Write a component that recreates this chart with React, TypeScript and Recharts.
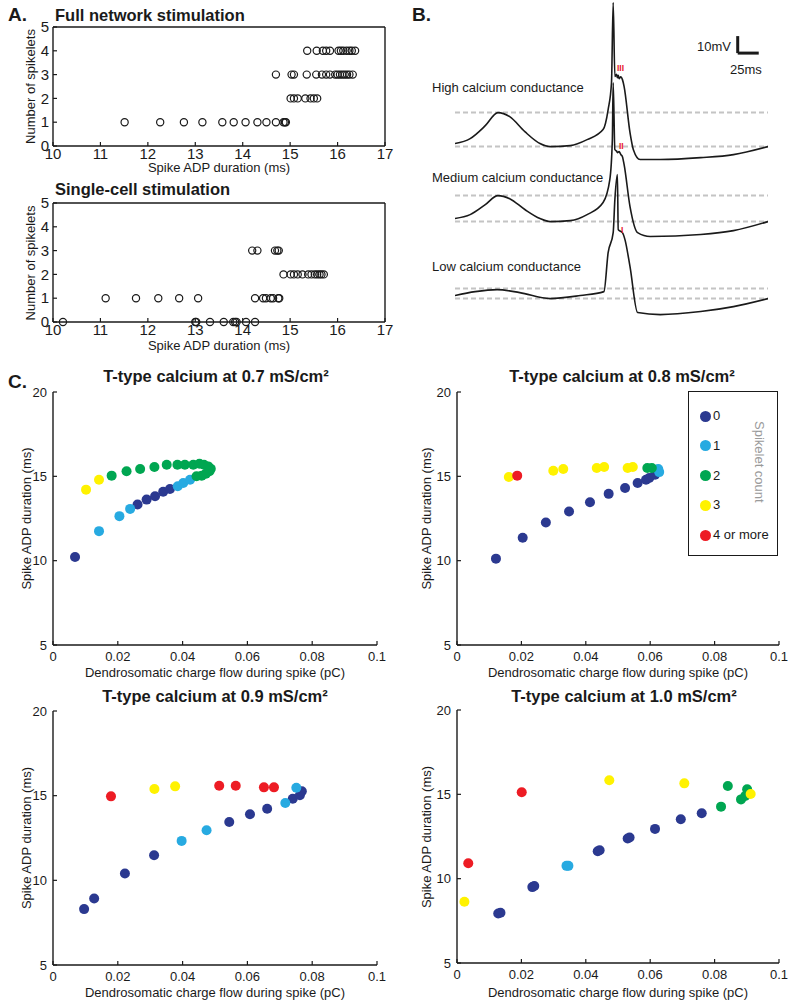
import React from "react";
import { ScatterChart, Scatter, XAxis, YAxis, LineChart, Line, ReferenceLine, Legend } from "recharts";

const FONT = '"Liberation Sans", Arial, Helvetica, sans-serif';
const INK = "#1a1a1a";

// ---- A: spikelet count vs ADP duration (one array per spikelet level)
const aXTicks = [10, 11, 12, 13, 14, 15, 16, 17];
const aYTicks = [0, 1, 2, 3, 4, 5];

const netOne = [11.51, 12.26, 12.76, 13.15, 13.57, 13.81, 14.06, 14.31, 14.5, 14.7, 14.86, 14.89, 14.91];
const netTwo = [15.01, 15.08, 15.16, 15.32, 15.43, 15.5, 15.57];
const netThree = [14.7, 15.03, 15.08, 15.35, 15.55, 15.67, 15.76, 15.84, 15.95, 16.0, 16.05, 16.1, 16.15, 16.2, 16.25, 16.32];
const netFour = [15.36, 15.56, 15.69, 15.76, 15.84, 16.02, 16.07, 16.12, 16.19, 16.25, 16.3, 16.37];

const cellZero = [10.21, 13.0, 13.02, 13.31, 13.6, 13.8, 13.84, 13.87, 14.07, 14.26];
const cellOne = [11.11, 11.75, 12.22, 12.66, 13.06, 14.26, 14.43, 14.49, 14.59, 14.64, 14.75, 14.77];
const cellTwo = [14.86, 15.01, 15.08, 15.16, 15.26, 15.38, 15.45, 15.52, 15.57, 15.62, 15.66, 15.71];
const cellThree = [14.2, 14.31, 14.68, 14.73, 14.76];

// ---- B: membrane potential traces, [time ms, mV above baseline]
const traceHigh = [
  [0, 1.8], [18, 4.7], [36, 12.3], [51, 20], [65, 17.6], [83, 8.8], [101, 1.8], [113, 0], [137, 0.6],
  [157, 4.1], [176, 10], [182, 21.8], [186, 37.6], [188, 84.7], [190, 41.2], [192, 42.5], [193, 40.5],
  [194, 42], [195, 40], [197, 41], [199, 39.4], [201, 35.3], [208, 8.2], [212, -1.8], [220, -7.6],
  [244, -7.6], [292, -6.5], [331, -4.7], [372, 0],
];
const traceMedium = [
  [0, 1.8], [18, 4.1], [36, 10], [51, 15.3], [65, 13.5], [83, 7.1], [101, 1.8], [113, 0], [137, 0.6],
  [157, 4.1], [176, 11.2], [184, 24.7], [187, 48], [188, 81.7], [190, 42.3], [192, 41.5], [193, 40.6],
  [195, 41.2], [197, 39.5], [199, 38.2], [201, 33.5], [208, 8.8], [217, -6.5], [232, -8.8],
  [292, -7.6], [331, -5.3], [372, 0],
];
const traceLow = [
  [0, 1.8], [24, 4.1], [50, 5.3], [77, 3.5], [113, 0], [149, 1.8], [177, 4.1], [182, 27], [188, 38.8],
  [190, 58.2], [193, 72.9], [194, 40.6], [197, 39.5], [199, 38.8], [202, 34.7], [208, 18.8],
  [217, -8.2], [244, -9.4], [292, -7.6], [331, -4.7], [372, 0],
];
const humpLevels = [20, 15.3, 5.9];

// ---- C: ADP duration vs charge flow, grouped by spikelet count
const chargeTicks = [0, 0.02, 0.04, 0.06, 0.08, 0.1];
const adpTicks = [5, 10, 15, 20];
const countNames = ["0", "1", "2", "3", "4 or more"];
const countColors = ["#2b3990", "#27aae1", "#00a651", "#fff200", "#ed1c24"];

const t07 = [
  [[0.0068, 10.22], [0.0261, 13.33], [0.0289, 13.62], [0.0315, 13.82], [0.034, 14.09], [0.0361, 14.25]],
  [[0.0142, 11.75], [0.0205, 12.64], [0.0238, 13.07], [0.0385, 14.41], [0.0402, 14.61], [0.0423, 14.8]],
  [[0.0181, 15.04], [0.0227, 15.3], [0.0269, 15.43], [0.0313, 15.55], [0.0351, 15.69], [0.0384, 15.69],
   [0.0407, 15.69], [0.0433, 15.69], [0.0452, 15.75], [0.0466, 15.69], [0.0479, 15.59], [0.0487, 15.45],
   [0.0483, 15.3], [0.0472, 15.16], [0.0459, 15.04], [0.0443, 15.0]],
  [[0.0102, 14.21], [0.0142, 14.8]],
  [],
];
const t08 = [
  [[0.0121, 10.12], [0.0204, 11.36], [0.0276, 12.26], [0.0348, 12.91], [0.0413, 13.46], [0.0471, 13.96],
   [0.0522, 14.31], [0.0561, 14.61], [0.0587, 14.8], [0.0597, 14.9], [0.0615, 15.1], [0.0625, 15.3]],
  [[0.0625, 15.43], [0.0628, 15.25]],
  [[0.0591, 15.49], [0.0605, 15.49]],
  [[0.0161, 14.96], [0.0299, 15.33], [0.033, 15.43], [0.0434, 15.49], [0.0457, 15.55], [0.053, 15.49], [0.0546, 15.55]],
  [[0.0187, 15.04]],
];
const t09 = [
  [[0.0096, 8.3], [0.0127, 8.93], [0.0222, 10.4], [0.0312, 11.48], [0.0544, 13.45], [0.0608, 13.9],
   [0.0661, 14.23], [0.074, 14.82], [0.0762, 15.02], [0.0768, 15.26]],
  [[0.0397, 12.33], [0.0474, 12.96], [0.0717, 14.57], [0.0751, 15.47]],
  [],
  [[0.0313, 15.39], [0.0377, 15.55]],
  [[0.0179, 14.96], [0.0513, 15.59], [0.0564, 15.59], [0.0651, 15.49], [0.0682, 15.49]],
];
const t10 = [
  [[0.0128, 7.93], [0.0135, 7.98], [0.0234, 9.5], [0.024, 9.56], [0.0437, 11.63], [0.0443, 11.69],
   [0.053, 12.38], [0.0536, 12.44], [0.0615, 12.95], [0.0695, 13.52], [0.076, 13.88]],
  [[0.034, 10.76], [0.0346, 10.76]],
  [[0.082, 14.27], [0.0841, 15.49], [0.0882, 14.7], [0.0895, 14.9], [0.0901, 15.3]],
  [[0.0023, 8.63], [0.0473, 15.83], [0.0706, 15.65], [0.0912, 15.02]],
  [[0.0035, 10.91], [0.0201, 15.12]],
];

const levelPoints = (levels: number[][]) => levels.flatMap((xs, y) => xs.map((x) => ({ x, y })));
const netPoints = levelPoints([[], netOne, netTwo, netThree, netFour]);
const cellPoints = levelPoints([cellZero, cellOne, cellTwo, cellThree]);

const TICK_LEN = 4;
const axisStroke = { stroke: INK, strokeWidth: 1.4 };

// inward ticks, MATLAB style
function makeTick(side: string, gap: number, size: number, label: boolean) {
  return (p: any) => {
    const v = p.payload.value;
    const txt = { fontSize: size, fontFamily: FONT, fill: INK };
    if (side === "bottom") {
      const ay = p.y - gap;
      return (
        <g>
          <line x1={p.x} x2={p.x} y1={ay} y2={ay - TICK_LEN} stroke={INK} strokeWidth={1.2} />
          {label && <text x={p.x} y={p.y} dy="0.8em" textAnchor="middle" {...txt}>{v}</text>}
        </g>
      );
    }
    if (side === "left") {
      const ax = p.x + gap;
      return (
        <g>
          <line x1={ax} x2={ax + TICK_LEN} y1={p.y} y2={p.y} stroke={INK} strokeWidth={1.2} />
          {label && <text x={p.x} y={p.y} dy="0.35em" textAnchor="end" {...txt}>{v}</text>}
        </g>
      );
    }
    if (side === "top") {
      const ay = p.y + gap;
      return <line x1={p.x} x2={p.x} y1={ay} y2={ay + TICK_LEN} stroke={INK} strokeWidth={1.2} />;
    }
    const ax = p.x - gap;
    return <line x1={ax} x2={ax - TICK_LEN} y1={p.y} y2={p.y} stroke={INK} strokeWidth={1.2} />;
  };
}

const ring = (p: any) => <circle cx={p.cx} cy={p.cy} r={3.6} fill="none" stroke={INK} strokeWidth={1.2} />;
const disc = (color: string) => (p: any) => <circle cx={p.cx} cy={p.cy} r={5} fill={color} />;

function SpikeletPanel({ top, points }: { top: number; points: { x: number; y: number }[] }) {
  return (
    <div style={{ position: "absolute", left: 0, top }}>
      <ScatterChart width={400} height={175} margin={{ top: 22, right: 10, bottom: 9, left: 13 }}>
        <XAxis type="number" dataKey="x" domain={[10, 17]} ticks={aXTicks} interval={0} height={20}
          tickSize={0} tickMargin={1} tickLine={false} axisLine={axisStroke} tick={makeTick("bottom", 1, 15, true)} />
        <XAxis xAxisId="top" orientation="top" type="number" domain={[10, 17]} ticks={aXTicks} interval={0} height={5}
          tickSize={0} tickMargin={0} tickLine={false} axisLine={axisStroke} tick={makeTick("top", 0, 0, false)} />
        <YAxis type="number" dataKey="y" domain={[0, 5]} ticks={aYTicks} interval={0} width={40}
          tickSize={0} tickMargin={4} tickLine={false} axisLine={axisStroke} tick={makeTick("left", 4, 15, true)} />
        <YAxis yAxisId="right" orientation="right" type="number" domain={[0, 5]} ticks={aYTicks} interval={0} width={5}
          tickSize={0} tickMargin={0} tickLine={false} axisLine={axisStroke} tick={makeTick("right", 0, 0, false)} />
        <Scatter data={points} shape={ring} isAnimationActive={false} />
      </ScatterChart>
    </div>
  );
}

const MV_PX = 1.7;
const V_MIN = -12;
const V_MAX = 88;

function TraceChart({ trace, hump, base, scaleBar }: { trace: number[][]; hump: number; base: number; scaleBar?: boolean }) {
  const rows = trace.map(([t, v]) => ({ t, v }));
  const dash = { stroke: "#c4c4c4", strokeWidth: 2, strokeDasharray: "5 3" };
  return (
    <div style={{ position: "absolute", left: 455, top: base - V_MAX * MV_PX }}>
      <LineChart width={313} height={(V_MAX - V_MIN) * MV_PX} data={rows} margin={{ top: 0, right: 0, bottom: 0, left: 0 }}>
        <XAxis type="number" dataKey="t" domain={[0, 372]} hide />
        <YAxis type="number" domain={[V_MIN, V_MAX]} hide />
        <ReferenceLine y={hump} {...dash} />
        <ReferenceLine y={0} {...dash} />
        <Line dataKey="v" type="monotone" stroke={INK} strokeWidth={1.6} dot={false} isAnimationActive={false} />
        {scaleBar && (
          <ReferenceLine segment={[{ x: 336, y: 55 }, { x: 336, y: 65 }]} stroke={INK} strokeWidth={3} />
        )}
        {scaleBar && (
          <ReferenceLine segment={[{ x: 336, y: 55 }, { x: 361, y: 55 }]} stroke={INK} strokeWidth={3} />
        )}
      </LineChart>
    </div>
  );
}

function SpikeletLegend(props: any) {
  const items = props.payload ?? [];
  return (
    <div style={{ position: "relative", width: 90, height: 165, border: `1.5px solid ${INK}`, boxSizing: "border-box", background: "#fff", fontFamily: FONT, color: INK }}>
      {items.map((it: any, i: number) => (
        <div key={it.value} style={{ position: "absolute", left: 11, top: 17 + i * 29.8, height: 14, display: "flex", alignItems: "center" }}>
          <span style={{ display: "inline-block", width: 11, height: 11, borderRadius: "50%", background: it.color }} />
          <span style={{ marginLeft: 2, fontSize: 13, lineHeight: "14px" }}>{it.value}</span>
        </div>
      ))}
      <div style={{ position: "absolute", left: 63, top: 29, writingMode: "vertical-rl", fontSize: 13, lineHeight: "14px", color: "#9a9a9a" }}>
        Spikelet count
      </div>
    </div>
  );
}

function TTypePanel({ plotLeft, plotTop, plotW, plotH, groups, withLegend }: any) {
  const boxLeft = plotLeft - 53;
  const boxTop = plotTop - 7;
  return (
    <div style={{ position: "absolute", left: boxLeft, top: boxTop }}>
      <ScatterChart width={53 + plotW + 12} height={7 + plotH + 30} margin={{ top: 7, right: 12, bottom: 10, left: 13 }}>
        <XAxis type="number" dataKey="x" domain={[0, 0.1]} ticks={chargeTicks} interval={0} height={20}
          tickSize={0} tickMargin={6} tickLine={false} axisLine={axisStroke} tick={makeTick("bottom", 6, 13, true)} />
        <YAxis type="number" dataKey="y" domain={[5, 20]} ticks={adpTicks} interval={0} width={40}
          tickSize={0} tickMargin={6} tickLine={false} axisLine={axisStroke} tick={makeTick("left", 6, 13, true)} />
        {groups.map((g: number[][], i: number) => (
          <Scatter key={countNames[i]} name={countNames[i]} data={g.map(([x, y]) => ({ x, y }))}
            fill={countColors[i]} shape={disc(countColors[i])} isAnimationActive={false} />
        ))}
        {withLegend && (
          <Legend layout="horizontal" verticalAlign="middle" align="center" content={SpikeletLegend}
            wrapperStyle={{ left: 688 - boxLeft, top: 391 - boxTop, width: 90, height: 165 }} />
        )}
      </ScatterChart>
    </div>
  );
}

export default function App() {
  const label = { fontSize: 13 };
  const title = { fontSize: 16.5, fontWeight: "bold" as const };
  const red = { fontSize: 8.5, fontWeight: "bold" as const, fill: "#e8202a" };
  return (
    <div style={{ position: "absolute", left: 0, top: 0, width: 790, height: 1004, background: "#fff", overflow: "hidden", fontFamily: FONT }}>
      <SpikeletPanel top={0} points={netPoints} />
      <SpikeletPanel top={176} points={cellPoints} />

      <TraceChart trace={traceHigh} hump={humpLevels[0]} base={147} scaleBar />
      <TraceChart trace={traceMedium} hump={humpLevels[1]} base={222} />
      <TraceChart trace={traceLow} hump={humpLevels[2]} base={299} />

      <TTypePanel plotLeft={53} plotTop={392} plotW={324} plotH={253} groups={t07} />
      <TTypePanel plotLeft={457} plotTop={392} plotW={322} plotH={253} groups={t08} withLegend />
      <TTypePanel plotLeft={53} plotTop={711} plotW={324} plotH={254} groups={t09} />
      <TTypePanel plotLeft={457} plotTop={710} plotW={322} plotH={253} groups={t10} />

      <svg width={790} height={1004} style={{ position: "absolute", left: 0, top: 0, pointerEvents: "none" }} fontFamily={FONT} fill={INK}>
        <text x={8} y={21} fontSize={19} fontWeight="bold">A.</text>
        <text x={55} y={21} {...title}>Full network stimulation</text>
        <text x={219} y={172} textAnchor="middle" {...label}>Spike ADP duration (ms)</text>
        <text x={55} y={195} {...title}>Single-cell stimulation</text>
        <text x={219} y={350} textAnchor="middle" {...label}>Spike ADP duration (ms)</text>
        <text transform="translate(35 86.5) rotate(-90)" textAnchor="middle" {...label}>Number of spikelets</text>
        <text transform="translate(35 263) rotate(-90)" textAnchor="middle" {...label}>Number of spikelets</text>

        <text x={412} y={21} fontSize={19} fontWeight="bold">B.</text>
        <text x={697} y={51} {...label}>10mV</text>
        <text x={730} y={74} {...label}>25ms</text>
        <text x={432} y={92} {...label}>High calcium conductance</text>
        <text x={432} y={182} {...label}>Medium calcium conductance</text>
        <text x={432} y={271} {...label}>Low calcium conductance</text>
        <text x={617} y={71} {...red}>III</text>
        <text x={619} y={149} {...red}>II</text>
        <text x={621} y={233} {...red}>I</text>

        <text x={8} y={388} fontSize={19} fontWeight="bold">C.</text>
        <text x={216} y={382} textAnchor="middle" {...title}>T-type calcium at 0.7 mS/cm²</text>
        <text x={622} y={382} textAnchor="middle" {...title}>T-type calcium at 0.8 mS/cm²</text>
        <text x={215} y={702} textAnchor="middle" {...title}>T-type calcium at 0.9 mS/cm²</text>
        <text x={624} y={702} textAnchor="middle" {...title}>T-type calcium at 1.0 mS/cm²</text>
        <text transform="translate(31 518.5) rotate(-90)" textAnchor="middle" {...label}>Spike ADP duration (ms)</text>
        <text transform="translate(431 518.5) rotate(-90)" textAnchor="middle" {...label}>Spike ADP duration (ms)</text>
        <text transform="translate(31 838) rotate(-90)" textAnchor="middle" {...label}>Spike ADP duration (ms)</text>
        <text transform="translate(431 837) rotate(-90)" textAnchor="middle" {...label}>Spike ADP duration (ms)</text>
        <text x={215} y={677} textAnchor="middle" {...label}>Dendrosomatic charge flow during spike (pC)</text>
        <text x={618} y={677} textAnchor="middle" {...label}>Dendrosomatic charge flow during spike (pC)</text>
        <text x={215} y={997} textAnchor="middle" {...label}>Dendrosomatic charge flow during spike (pC)</text>
        <text x={618} y={997} textAnchor="middle" {...label}>Dendrosomatic charge flow during spike (pC)</text>
      </svg>
    </div>
  );
}
